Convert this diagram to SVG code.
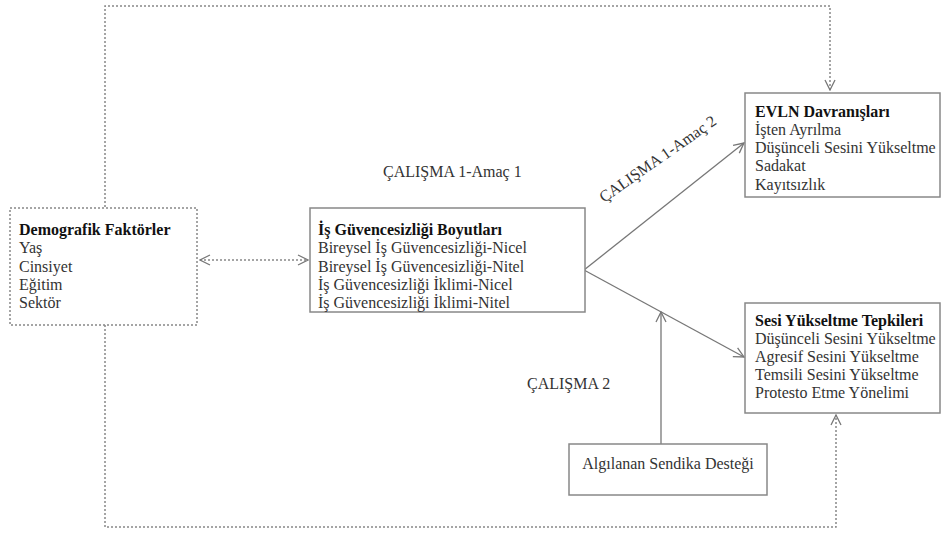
<svg xmlns="http://www.w3.org/2000/svg" width="949" height="534" viewBox="0 0 949 534">
<defs>
<style>
.t{font-family:"Liberation Serif","Times New Roman",serif;font-size:16px;fill:#333}
.b{font-weight:bold;fill:#111}
.box{fill:#fff;stroke:#888;stroke-width:1.5}
.dbox{fill:#fff;stroke:#888;stroke-width:1.5;stroke-dasharray:2 2}
.ln{fill:none;stroke:#777;stroke-width:1.3}
.dl{fill:none;stroke:#888;stroke-width:1.5;stroke-dasharray:2 2}
</style>
<marker id="ah" viewBox="0 0 12 12" refX="11" refY="6" markerWidth="12" markerHeight="12" markerUnits="userSpaceOnUse" orient="auto-start-reverse">
<path d="M1,1 L11,6 L1,11" fill="none" stroke="#777" stroke-width="1.3"/>
</marker>
</defs>
<rect width="949" height="534" fill="#fff"/>
<g id="connectors">
<path class="dl" d="M105,207 V6 H830 V90" marker-end="url(#ah)"/>
<path class="dl" d="M105,325 V527 H836 V415" marker-end="url(#ah)"/>
<line class="dl" x1="200" y1="260" x2="308" y2="260" marker-start="url(#ah)" marker-end="url(#ah)"/>
<line class="ln" x1="584" y1="270" x2="744" y2="143" marker-end="url(#ah)"/>
<line class="ln" x1="584" y1="270" x2="744" y2="357" marker-end="url(#ah)"/>
<line class="ln" x1="661" y1="444" x2="661" y2="312" marker-end="url(#ah)"/>
</g>
<g id="demografik">
<rect class="dbox" x="10" y="208" width="187" height="117"/>
<text class="t b" x="19" y="235">Demografik Faktörler</text>
<text class="t" x="19" y="253">Yaş</text>
<text class="t" x="19" y="272">Cinsiyet</text>
<text class="t" x="19" y="290">Eğitim</text>
<text class="t" x="19" y="308">Sektör</text>
</g>
<g id="boyutlar">
<rect class="box" x="310" y="208" width="275" height="104"/>
<text class="t b" x="318" y="235">İş Güvencesizliği Boyutları</text>
<text class="t" x="318" y="253">Bireysel İş Güvencesizliği-Nicel</text>
<text class="t" x="318" y="272">Bireysel İş Güvencesizliği-Nitel</text>
<text class="t" x="318" y="290">İş Güvencesizliği İklimi-Nicel</text>
<text class="t" x="318" y="308">İş Güvencesizliği İklimi-Nitel</text>
</g>
<g id="evln">
<rect class="box" x="745" y="93" width="195" height="104"/>
<text class="t b" x="755" y="117">EVLN Davranışları</text>
<text class="t" x="755" y="135">İşten Ayrılma</text>
<text class="t" x="755" y="153">Düşünceli Sesini Yükseltme</text>
<text class="t" x="755" y="171">Sadakat</text>
<text class="t" x="755" y="190">Kayıtsızlık</text>
</g>
<g id="sesi">
<rect class="box" x="745" y="303" width="195" height="110"/>
<text class="t b" x="755" y="326">Sesi Yükseltme Tepkileri</text>
<text class="t" x="755" y="344">Düşünceli Sesini Yükseltme</text>
<text class="t" x="755" y="362">Agresif Sesini Yükseltme</text>
<text class="t" x="755" y="380">Temsili Sesini Yükseltme</text>
<text class="t" x="755" y="398">Protesto Etme Yönelimi</text>
</g>
<g id="sendika">
<rect class="box" x="569" y="444" width="198" height="51"/>
<text class="t" x="668" y="469" text-anchor="middle">Algılanan Sendika Desteği</text>
</g>
<g id="labels">
<text class="t" x="383" y="177">ÇALIŞMA 1-Amaç 1</text>
<text class="t" x="604" y="203" transform="rotate(-35 604 203)">ÇALIŞMA 1-Amaç 2</text>
<text class="t" x="527" y="389">ÇALIŞMA 2</text>
</g>
</svg>
